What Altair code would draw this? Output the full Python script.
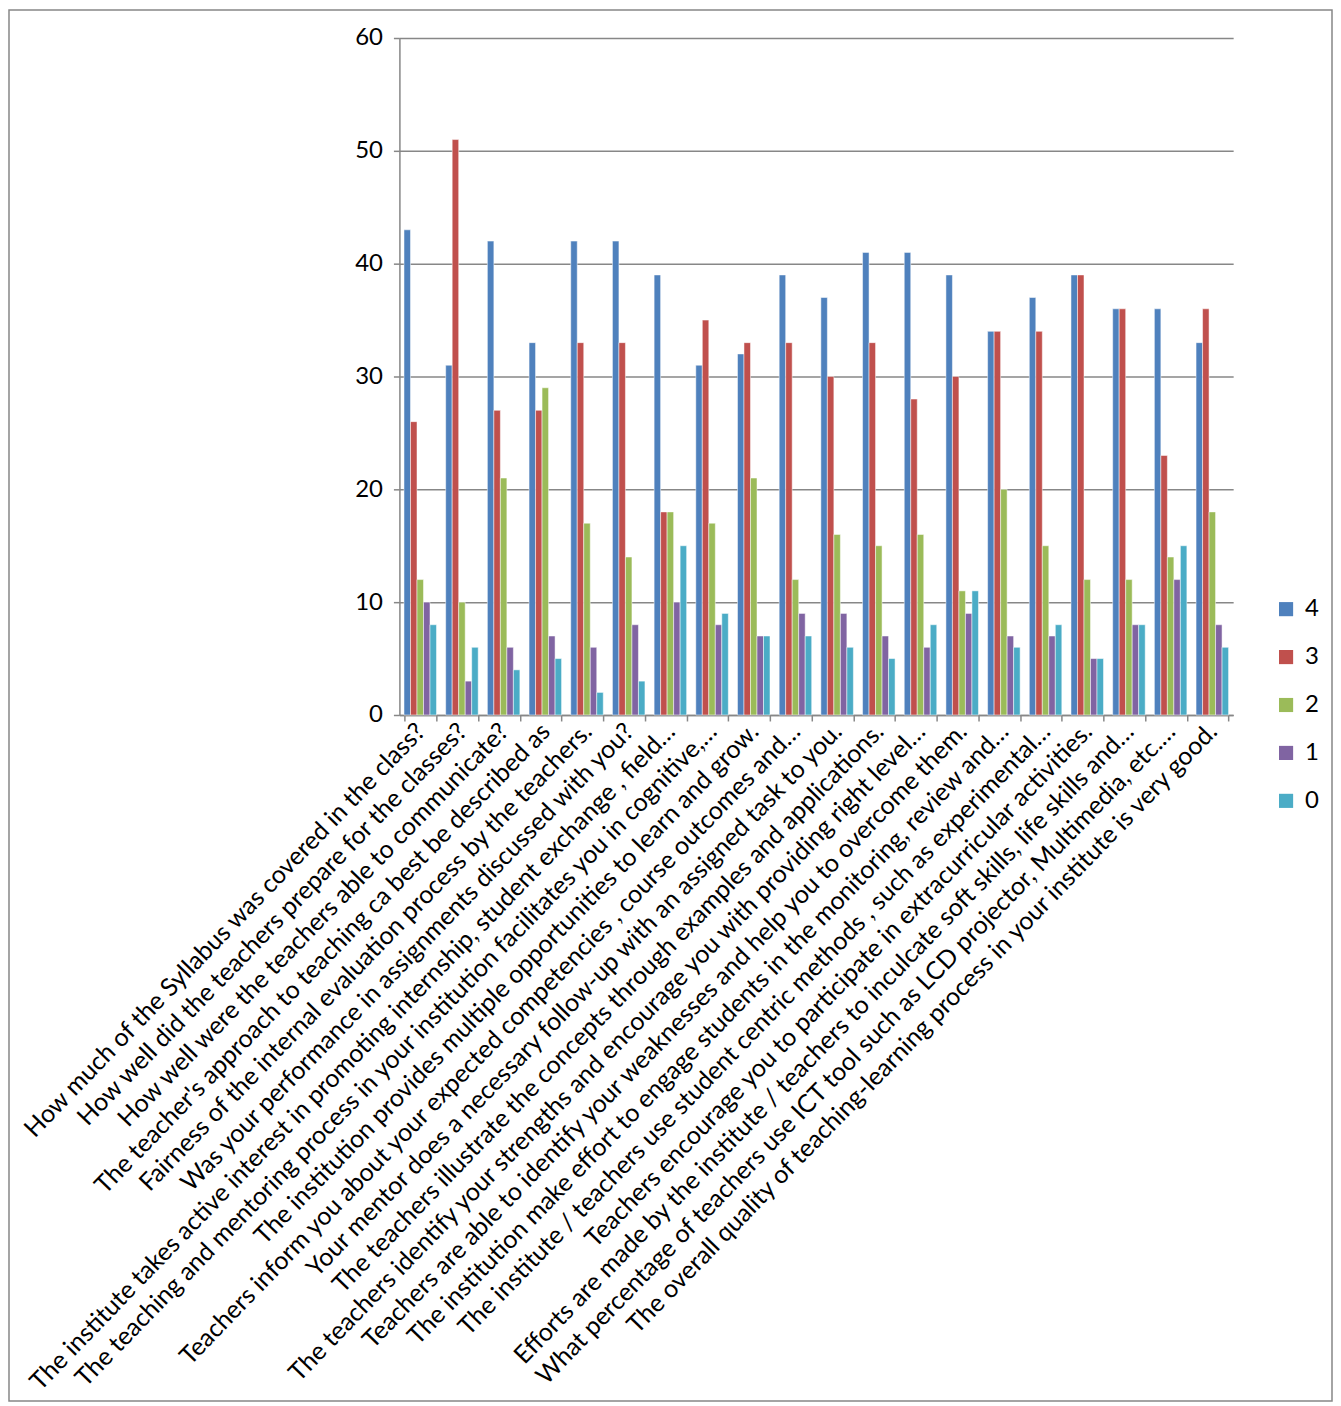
import altair as alt
import pandas as pd

questions = [
    "How much of the Syllabus was covered in the class?",
    "How well did the teachers prepare for the classes?",
    "How well were the teachers able to communicate?",
    "The teacher's approach to teaching ca best be described as",
    "Fairness of the internal evaluation process by the teachers.",
    "Was your performance in assignments discussed with you?",
    "The institute takes active interest in promoting internship, student exchange , field…",
    "The teaching and mentoring process in your institution facilitates you in cognitive,…",
    "The institution provides multiple opportunities to learn and grow.",
    "Teachers inform you about your expected competencies , course outcomes and…",
    "Your mentor does a necessary follow-up with an assigned task to you.",
    "The teachers illustrate the concepts through examples and applications.",
    "The teachers identify your strengths and encourage you with providing right level…",
    "Teachers are able to identify your weaknesses and help you to overcome them.",
    "The institution make effort to engage students in the monitoring, review and…",
    "The institute / teachers use student centric methods , such as experimental…",
    "Teachers encourage you to participate in extracurricular activities.",
    "Efforts are made by the institute / teachers to inculcate soft skills, life skills and…",
    "What percentage of teachers use ICT tool such as LCD projector, Multimedia, etc.…",
    "The overall quality of teaching-learning process in your institute is very good.",
]

series_names = ["4", "3", "2", "1", "0"]
v4 = [43, 31, 42, 33, 42, 42, 39, 31, 32, 39, 37, 41, 41, 39, 34, 37, 39, 36, 36, 33]
v3 = [26, 51, 27, 27, 33, 33, 18, 35, 33, 33, 30, 33, 28, 30, 34, 34, 39, 36, 23, 36]
v2 = [12, 10, 21, 29, 17, 14, 18, 17, 21, 12, 16, 15, 16, 11, 20, 15, 12, 12, 14, 18]
v1 = [10, 3, 6, 7, 6, 8, 10, 8, 7, 9, 9, 7, 6, 9, 7, 7, 5, 8, 12, 8]
v0 = [8, 6, 4, 5, 2, 3, 15, 9, 7, 7, 6, 5, 8, 11, 6, 8, 5, 8, 15, 6]
colors = ["#4F81BD", "#C0504D", "#9BBB59", "#8064A2", "#4BACC6"]
y_ticks = [0, 10, 20, 30, 40, 50, 60]

rows = []
for name, vals in zip(series_names, [v4, v3, v2, v1, v0]):
    for q, v in zip(questions, vals):
        rows.append({"question": q, "series": name, "value": v})
df = pd.DataFrame(rows)

W, H = 835, 678
PL, PT, PR, PB = 392, 29, 100, 688
FONT = "Lato"
GRAY = "#878787"

bars = alt.Chart(df).mark_bar(stroke="white", strokeWidth=0.5).encode(
    x=alt.X(
        "question:N",
        sort=questions,
        scale=alt.Scale(paddingInner=0.22, paddingOuter=0.11),
        axis=alt.Axis(
            title=None,
            labelAngle=-46,
            labelAlign="right",
            labelBaseline="middle",
            labelLimit=1500,
            labelOverlap=False,
            labelFontSize=25,
            labelFont=FONT,
            labelColor="black",
            labelPadding=6,
            tickBand="extent",
            tickSize=6,
            tickColor=GRAY,
            tickWidth=1.5,
            domainColor=GRAY,
            domainWidth=1.5,
            grid=False,
        ),
    ),
    xOffset=alt.XOffset("series:N", sort=series_names),
    y=alt.Y(
        "value:Q",
        scale=alt.Scale(domain=[0, 60], nice=False),
        axis=alt.Axis(
            title=None,
            values=y_ticks,
            labelFontSize=24,
            labelFont=FONT,
            labelColor="black",
            labelPadding=11,
            tickSize=6,
            tickColor=GRAY,
            tickWidth=1.5,
            domainColor=GRAY,
            domainWidth=1.5,
            grid=True,
            gridColor=GRAY,
            gridWidth=1.5,
        ),
    ),
    color=alt.Color(
        "series:N",
        sort=series_names,
        scale=alt.Scale(domain=series_names, range=colors),
        legend=alt.Legend(
            title=None,
            orient="none",
            legendX=876,
            legendY=560,
            symbolType="square",
            symbolSize=200,
            symbolStrokeWidth=0,
            labelFontSize=24,
            labelFont=FONT,
            labelColor="black",
            labelOffset=7,
            rowPadding=24,
            padding=0,
        ),
    ),
)

border = alt.Chart(pd.DataFrame({"a": [0]})).mark_rect(
    fill="transparent", stroke=GRAY, strokeWidth=1.5
).encode(
    x=alt.value(-PL + 1),
    x2=alt.value(W + PR - 1),
    y=alt.value(-PT + 1),
    y2=alt.value(H + PB - 1),
)

chart = alt.layer(bars, border).properties(
    width=W,
    height=H,
    autosize=alt.AutoSizeParams(type="none"),
    padding={"left": PL, "top": PT, "right": PR, "bottom": PB},
    background="white",
).configure_view(stroke=None)

chart.save("out.html", embed_options={"renderer": "svg", "actions": False})
